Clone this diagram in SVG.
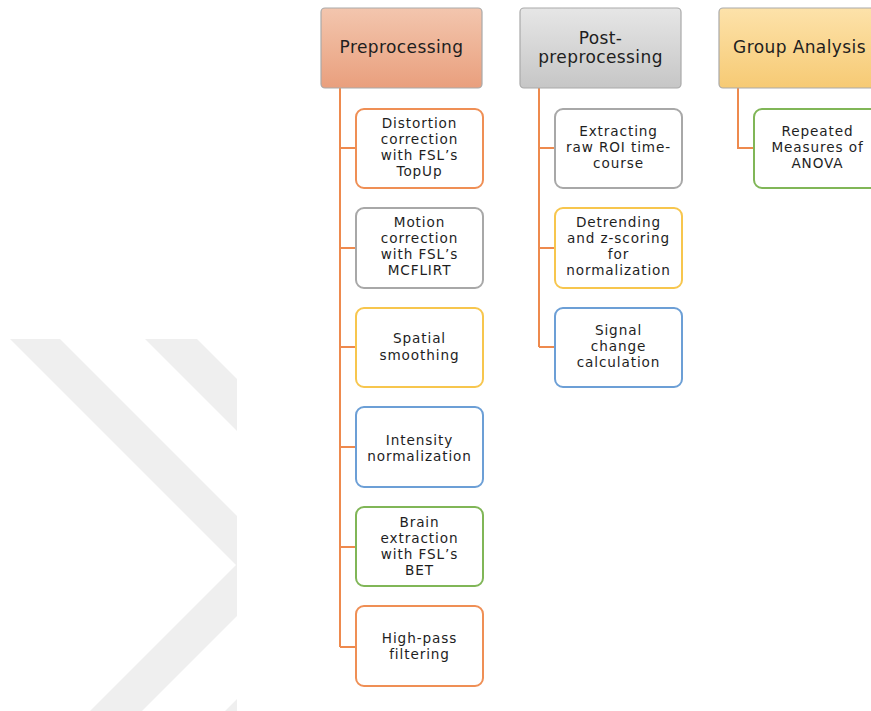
<svg xmlns="http://www.w3.org/2000/svg" width="871" height="711" viewBox="0 0 871 711">
<defs>
<linearGradient id="gPre" x1="0" y1="0" x2="0" y2="1"><stop offset="0" stop-color="#f3c6ae"/><stop offset="1" stop-color="#e99f7d"/></linearGradient>
<linearGradient id="gPost" x1="0" y1="0" x2="0" y2="1"><stop offset="0" stop-color="#e6e6e6"/><stop offset="1" stop-color="#c6c6c6"/></linearGradient>
<linearGradient id="gGrp" x1="0" y1="0" x2="0" y2="1"><stop offset="0" stop-color="#fde2aa"/><stop offset="1" stop-color="#f6ca74"/></linearGradient>
<clipPath id="wmClip"><rect x="0" y="0" width="237" height="711"/></clipPath>
<style>
.hdr{stroke:#a9a9a9;stroke-width:1.2}
.box{fill:#ffffff;stroke-width:2}
.or{stroke:#ef8f55}.gy{stroke:#a8a8a8}.ye{stroke:#f7c64e}.bl{stroke:#6c9fd6}.gr{stroke:#80b657}
.conn{fill:none;stroke:#ee8a4e;stroke-width:2}
text{font-family:"DejaVu Sans","Liberation Sans",sans-serif;fill:#1e1e1e;text-anchor:middle}
.ht{font-size:17px;letter-spacing:0.4px}
.bt{font-size:13.6px;letter-spacing:0.9px}
.wm{fill:#efefef}
</style>
</defs>
<rect x="0" y="0" width="871" height="711" fill="#ffffff"/>
<g id="watermark" clip-path="url(#wmClip)">
<polygon class="wm" points="10,339 60,339 287,566 142,711 90,711 236,565"/>
<polygon class="wm" points="145,339 197,339 424,566 279,711 225,711 371,565"/>
</g>
<g id="connectors">
<path class="conn" d="M340,88 V647 M340,148 H356 M340,248 H356 M340,347 H356 M340,447 H356 M340,547 H356 M340,647 H356"/>
<path class="conn" d="M539,88 V347 M539,148 H555 M539,248 H555 M539,347 H555"/>
<path class="conn" d="M738,88 V148 H754"/>
</g>
<g id="preprocessing">
<rect class="hdr" x="321" y="8" width="161" height="80" rx="4" fill="url(#gPre)"/>
<text class="ht" x="401.5" y="53">Preprocessing</text>
</g>
<g id="post-preprocessing">
<rect class="hdr" x="520" y="8" width="161" height="80" rx="4" fill="url(#gPost)"/>
<text class="ht" x="600.5" y="44">Post-</text>
<text class="ht" x="600.5" y="63">preprocessing</text>
</g>
<g id="group-analysis">
<rect class="hdr" x="719" y="8" width="161" height="80" rx="4" fill="url(#gGrp)"/>
<text class="ht" x="799.5" y="53">Group Analysis</text>
</g>
<g id="distortion">
<rect class="box or" x="356" y="109" width="127" height="79" rx="8"/>
<text class="bt" x="419.5" y="128">Distortion<tspan x="419.5" dy="16">correction</tspan><tspan x="419.5" dy="16">with FSL’s</tspan><tspan x="419.5" dy="16">TopUp</tspan></text>
</g>
<g id="motion">
<rect class="box gy" x="356" y="208" width="127" height="80" rx="8"/>
<text class="bt" x="419.5" y="227">Motion<tspan x="419.5" dy="16">correction</tspan><tspan x="419.5" dy="16">with FSL’s</tspan><tspan x="419.5" dy="16">MCFLIRT</tspan></text>
</g>
<g id="spatial">
<rect class="box ye" x="356" y="308" width="127" height="79" rx="8"/>
<text class="bt" x="419.5" y="343">Spatial<tspan x="419.5" dy="16.5">smoothing</tspan></text>
</g>
<g id="intensity">
<rect class="box bl" x="356" y="407" width="127" height="80" rx="8"/>
<text class="bt" x="419.5" y="445">Intensity<tspan x="419.5" dy="16">normalization</tspan></text>
</g>
<g id="brain">
<rect class="box gr" x="356" y="507" width="127" height="79" rx="8"/>
<text class="bt" x="419.5" y="527">Brain<tspan x="419.5" dy="16">extraction</tspan><tspan x="419.5" dy="16">with FSL’s</tspan><tspan x="419.5" dy="16">BET</tspan></text>
</g>
<g id="highpass">
<rect class="box or" x="356" y="606" width="127" height="80" rx="8"/>
<text class="bt" x="419.5" y="643">High-pass<tspan x="419.5" dy="16">filtering</tspan></text>
</g>
<g id="extracting">
<rect class="box gy" x="555" y="109" width="127" height="79" rx="8"/>
<text class="bt" x="618.5" y="136">Extracting<tspan x="618.5" dy="16">raw ROI time-</tspan><tspan x="618.5" dy="16">course</tspan></text>
</g>
<g id="detrending">
<rect class="box ye" x="555" y="208" width="127" height="80" rx="8"/>
<text class="bt" x="618.5" y="227">Detrending<tspan x="618.5" dy="16">and z-scoring</tspan><tspan x="618.5" dy="16">for</tspan><tspan x="618.5" dy="16">normalization</tspan></text>
</g>
<g id="signal">
<rect class="box bl" x="555" y="308" width="127" height="79" rx="8"/>
<text class="bt" x="618.5" y="335">Signal<tspan x="618.5" dy="16">change</tspan><tspan x="618.5" dy="16">calculation</tspan></text>
</g>
<g id="anova">
<rect class="box gr" x="754" y="109" width="127" height="79" rx="8"/>
<text class="bt" x="817.5" y="136">Repeated<tspan x="817.5" dy="16">Measures of</tspan><tspan x="817.5" dy="16">ANOVA</tspan></text>
</g>
</svg>
